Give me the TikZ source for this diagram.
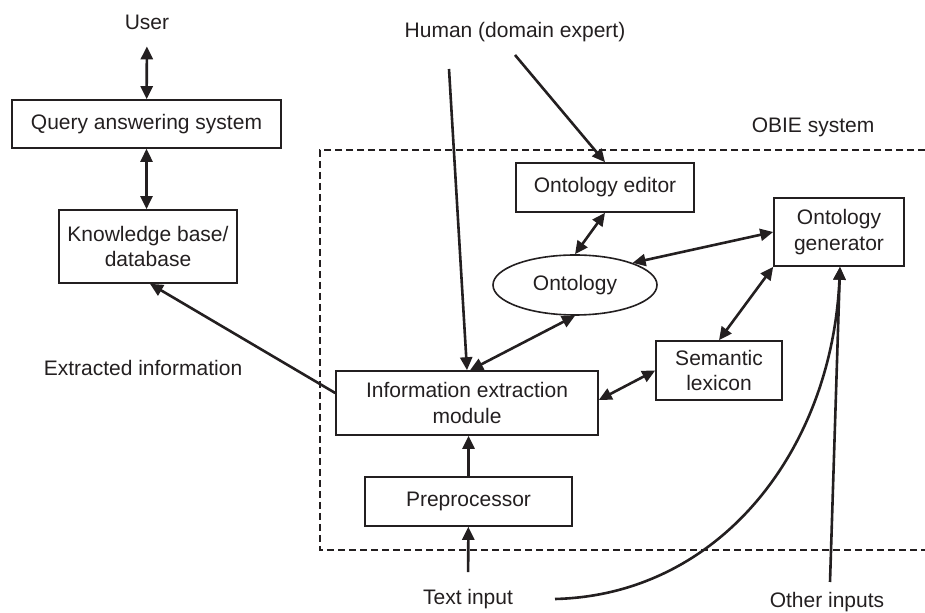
\documentclass[tikz,border=0pt]{standalone}
\usepackage{fontspec}
\setmainfont{Liberation Sans}
\usetikzlibrary{arrows.meta,shapes.geometric}
\definecolor{ink}{HTML}{231F20}

\begin{document}
\begin{tikzpicture}[x=0.5pt,y=-0.5pt,font=\fontsize{10.5}{12.6}\selectfont,text=ink,
    >={Triangle[length=6.5pt,width=6pt]},
    box/.style={draw=ink,line width=0.8pt,inner sep=0pt,align=center},
    flow/.style={draw=ink,line width=1.3pt}]
  \useasboundingbox (0,0) rectangle (925,613);
  % outside the system
  \node (user) at (147,22) {User};
  \node (human) at (515,32) {Human (domain expert)};
  \node[box,minimum width=134.5pt,minimum height=24pt] (qa) at (146.5,124) {Query answering system};
  \node[box,minimum width=89pt,minimum height=36.5pt] (kb) at (148,246.5) {Knowledge base/\\database};
  \node (ext) at (143,368) {Extracted information};
  \node (tin) at (468,599) {Text input};
  \node (oin) at (827,602) {Other inputs};
  \coordinate (hl) at (449,69);
  \coordinate (hr) at (515,55);
  \coordinate (cs) at (555,599);
  \coordinate (oi) at (830,582);
  % OBIE system
  \draw[ink,line width=0.9pt,dash pattern=on 3.5pt off 2pt] (925,150) -| (320,550) -- (925,550);
  \node (obie) at (813,127) {OBIE system};
  \node[box,minimum width=89pt,minimum height=24.5pt] (oe) at (605,187.5) {Ontology editor};
  \node[box,ellipse,minimum width=82pt,minimum height=30pt] (ont) at (575,285) {Ontology};
  \node[box,minimum width=65pt,minimum height=34pt] (og) at (839,232) {Ontology\\generator};
  \node[box,minimum width=63pt,minimum height=29.5pt] (sl) at (719,370.5) {Semantic\\lexicon};
  \node[box,minimum width=131pt,minimum height=32pt] (iem) at (467,403) {Information extraction\\module};
  \node[box,minimum width=103.5pt,minimum height=24.5pt] (pre) at (468.5,501.5) {Preprocessor};
  % connectors
  \draw[flow,<->,shorten <=5pt] (user) -- (qa);
  \draw[flow,<->] (qa.south) -- (qa.south |- kb.north);
  \draw[flow,->] ([yshift=5pt]iem.west) -- ([xshift=1pt]kb.south);
  \draw[flow,->] (hl) -- (iem.north);
  \draw[flow,->] (hr) -- (oe.north);
  \draw[flow,<->] (oe.south) -- (ont.north);
  \draw[flow,<->] (ont.21) -- (og.west);
  \draw[flow,<->] ([xshift=1.5pt]iem.north) -- (ont.south);
  \draw[flow,<->] ([yshift=1.5pt]iem.east) -- (sl.west);
  \draw[flow,<->] (sl.north) -- (og.south west);
  \draw[flow,->] (pre.north) -- (pre.north |- iem.south);
  \draw[flow,->,shorten <=5pt] (tin) -- (pre);
  \draw[flow,->] (cs) .. controls (720,595) and (832,450) .. ([xshift=0.5pt]og.south);
  \draw[flow,->] (oi) -- ([xshift=0.5pt]og.south);
\end{tikzpicture}
\end{document}
